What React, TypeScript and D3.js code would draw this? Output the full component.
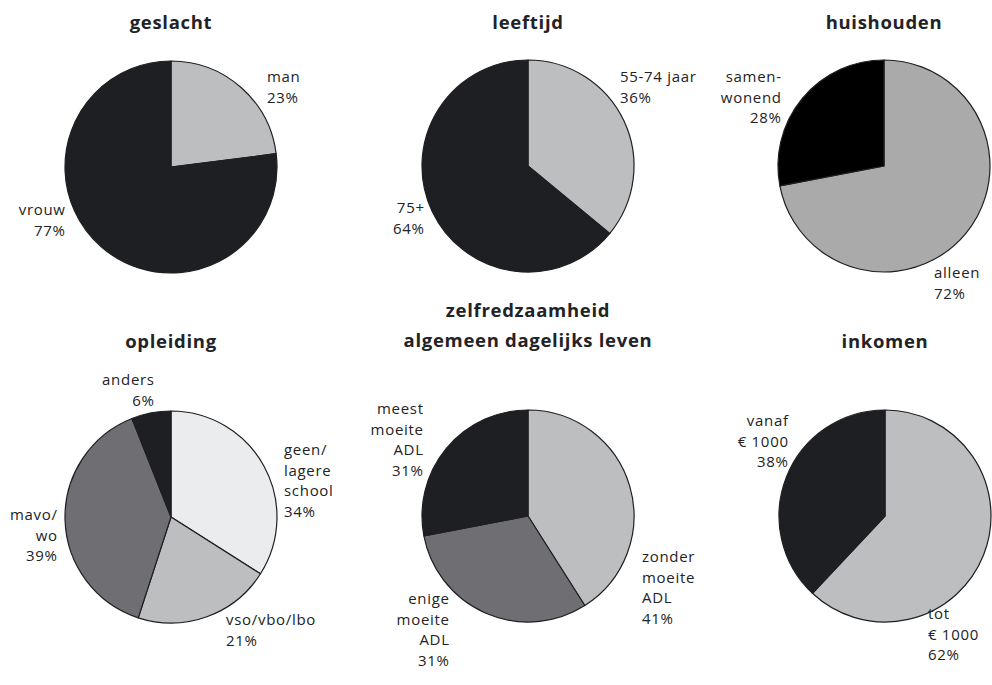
import React from 'react';
import * as d3 from 'd3';

// data per chart
const geslachtCats = [['man'], ['vrouw']];
const geslachtValues = [23, 77];

const leeftijdCats = [['55-74 jaar'], ['75+']];
const leeftijdValues = [36, 64];

const huishoudenCats = [['alleen'], ['samen-', 'wonend']];
const huishoudenValues = [72, 28];

const opleidingCats = [['geen/', 'lagere', 'school'], ['vso/vbo/lbo'], ['mavo/', 'wo'], ['anders']];
const opleidingValues = [34, 21, 39, 6];

const adlCats = [['zonder', 'moeite', 'ADL'], ['enige', 'moeite', 'ADL'], ['meest', 'moeite', 'ADL']];
const adlValues = [41, 31, 28];
const adlShown = [41, 31, 31]; // percentages as printed in the source

const inkomenCats = [['tot', '€ 1000'], ['vanaf', '€ 1000']];
const inkomenValues = [62, 38];

const DARK = '#1e1f22';
const GRAY = '#bdbec0';

type Lbl = { dx: number; dy: number; anchor: 'start' | 'end' };
type Chart = {
  title: string[];
  cats: string[][];
  values: number[];
  shown?: number[];
  colors: string[];
  cx: number;
  cy: number;
  titleY: number;
  labels: Lbl[];
};

const charts: Chart[] = [
  {
    title: ['geslacht'], cats: geslachtCats, values: geslachtValues,
    colors: [GRAY, DARK], cx: 171, cy: 167, titleY: 29,
    labels: [{ dx: 96, dy: -85, anchor: 'start' }, { dx: -106, dy: 48, anchor: 'end' }],
  },
  {
    title: ['leeftijd'], cats: leeftijdCats, values: leeftijdValues,
    colors: [GRAY, DARK], cx: 528, cy: 166, titleY: 29,
    labels: [{ dx: 92, dy: -84, anchor: 'start' }, { dx: -104, dy: 47, anchor: 'end' }],
  },
  {
    title: ['huishouden'], cats: huishoudenCats, values: huishoudenValues,
    colors: ['#aaaaaa', '#000000'], cx: 884, cy: 166, titleY: 29,
    labels: [{ dx: 50, dy: 112, anchor: 'start' }, { dx: -103, dy: -84, anchor: 'end' }],
  },
  {
    title: ['opleiding'], cats: opleidingCats, values: opleidingValues,
    colors: ['#ebecee', GRAY, '#6f6e73', DARK], cx: 171, cy: 517, titleY: 348,
    labels: [
      { dx: 113, dy: -62, anchor: 'start' },
      { dx: 55, dy: 108, anchor: 'start' },
      { dx: -114, dy: 3, anchor: 'end' },
      { dx: -17, dy: -132, anchor: 'end' },
    ],
  },
  {
    title: ['zelfredzaamheid', 'algemeen dagelijks leven'], cats: adlCats, values: adlValues, shown: adlShown,
    colors: [GRAY, '#6f6e73', DARK], cx: 528, cy: 516, titleY: 317,
    labels: [
      { dx: 114, dy: 46, anchor: 'start' },
      { dx: -79, dy: 88, anchor: 'end' },
      { dx: -105, dy: -102, anchor: 'end' },
    ],
  },
  {
    title: ['inkomen'], cats: inkomenCats, values: inkomenValues,
    colors: [GRAY, DARK], cx: 885, cy: 516, titleY: 348,
    labels: [{ dx: 43, dy: 103, anchor: 'start' }, { dx: -97, dy: -90, anchor: 'end' }],
  },
];

const R = 106;
const LINE = 20.7;

const arc = d3.arc<d3.PieArcDatum<number>>().innerRadius(0).outerRadius(R);
const pie = d3.pie<number>().sort(null).value((d) => d);

const PieChart = ({ c }: { c: Chart }) => {
  const arcs = pie(c.values);
  return (
    <g>
      {c.title.map((t, i) => (
        <text
          key={t}
          x={c.cx}
          y={c.titleY + i * 30}
          textAnchor="middle"
          fontSize={18.5}
          fontWeight="bold"
          letterSpacing={0.7}
          fill="#222326"
        >
          {t}
        </text>
      ))}
      <g transform={`translate(${c.cx},${c.cy})`}>
        {arcs.map((a, i) => (
          <path key={i} d={arc(a) || ''} fill={c.colors[i]} stroke={DARK} strokeWidth={1.2} strokeLinejoin="round" />
        ))}
        {arcs.map((a, i) => {
          const l = c.labels[i];
          const pct = (c.shown ? c.shown[i] : c.values[i]) + '%';
          const lines = [...c.cats[i], pct];
          // letter-spacing leaves a trailing gap, compensate for end-anchored text
          const x = l.anchor === 'end' ? l.dx + 0.7 : l.dx;
          return (
            <text key={'l' + i} x={x} y={l.dy} textAnchor={l.anchor} fontSize={15} letterSpacing={0.7} fill="#222326">
              {lines.map((s, j) => (
                <tspan key={j} x={x} y={l.dy + j * LINE}>
                  {s}
                </tspan>
              ))}
            </text>
          );
        })}
      </g>
    </g>
  );
};

export default function App() {
  return (
    <svg
      width={992}
      height={685}
      style={{ position: 'absolute', left: 0, top: 0, background: '#fff' }}
      fontFamily="'Open Sans', sans-serif"
    >
      {charts.map((c) => (
        <PieChart key={c.title[0]} c={c} />
      ))}
    </svg>
  );
}
